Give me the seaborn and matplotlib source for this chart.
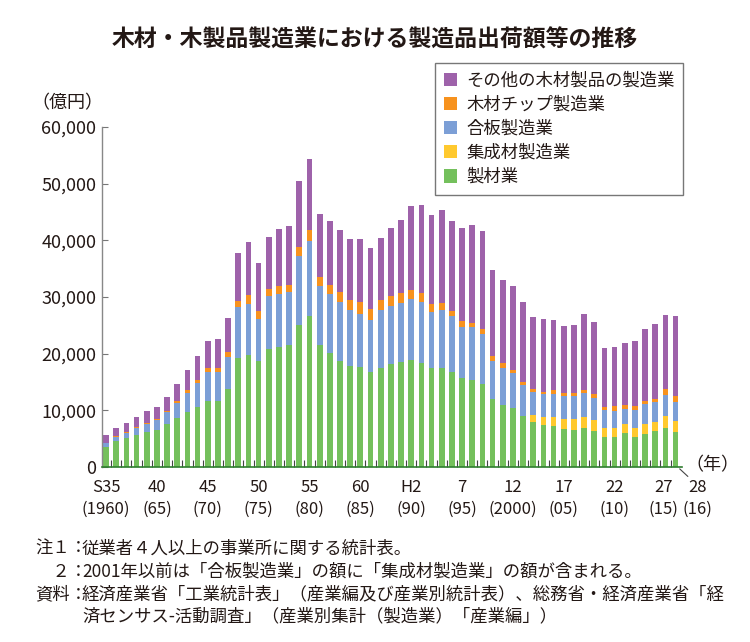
import numpy as np
import pandas as pd
import matplotlib
matplotlib.use("Agg")
import matplotlib.pyplot as plt
import matplotlib.transforms as mtransforms
from matplotlib.patches import Patch
from matplotlib.ticker import FuncFormatter, FixedLocator
import seaborn as sns

# data (億円), 1960-2016
years = list(range(1960, 2017))
seizai = [3540, 4600, 5130, 5600, 6130, 6480, 7540, 8720, 9780, 10610,
          11610, 11670, 13730, 19150, 19740, 18680, 20740, 21100, 21450, 25050,
          26640, 21510, 20040, 18740, 17800, 17560, 16680, 17500, 18090, 18450,
          18860, 18330, 17500, 17500, 16850, 15790, 15320, 14560, 12080, 10960,
          10430, 8960, 7900, 7370, 7190, 6660, 6540, 6840, 6310, 5360,
          5360, 6010, 5250, 5830, 6360, 6840, 6130]
shuseizai = [0] * 42 + [1240, 1410, 1590, 1770, 1890, 1940, 1940, 1530,
                        1530, 1530, 1650, 1710, 1650, 2240, 1940]
gohan = [700, 700, 940, 1360, 1470, 1770, 2180, 2530, 3300, 4130,
         5190, 5130, 5660, 9080, 9070, 7430, 9370, 9370, 9490, 12260,
         13200, 10490, 10430, 10430, 9840, 9430, 9310, 10260, 10370, 10490,
         10730, 10780, 9900, 10260, 9780, 8960, 9430, 8900, 6660, 6540,
         6130, 5480, 4130, 4130, 4130, 4010, 4130, 4300, 3950, 3180,
         3000, 2650, 3180, 3600, 3420, 3650, 3420]
chip = [80, 100, 100, 120, 120, 150, 200, 350, 530, 590,
        650, 650, 940, 1060, 1470, 1470, 1300, 1470, 1180, 1530,
        2000, 1470, 1710, 1770, 1830, 2120, 1950, 1710, 1710, 1710,
        1650, 1530, 1410, 1240, 940, 1060, 710, 830, 830, 770,
        530, 530, 530, 350, 650, 530, 530, 590, 710, 470,
        880, 710, 650, 590, 590, 1000, 1120]
sonota = [1330, 1490, 1550, 1710, 2120, 2210, 2510, 3120, 3480, 4240,
          4830, 5130, 5950, 8550, 9430, 8490, 9190, 10020, 10430, 11550,
          12550, 11260, 11260, 10840, 10790, 11140, 10790, 10960, 12080, 12960,
          14850, 15620, 15620, 16320, 15850, 16320, 17270, 17330, 15200, 14790,
          14850, 14140, 12610, 12850, 12380, 11900, 11960, 13380, 12670, 10370,
          10430, 10960, 11430, 12670, 13200, 13140, 13970]

series_names = ["製材業", "集成材製造業", "合板製造業", "木材チップ製造業", "その他の木材製品の製造業"]
series_colors = ["#74c05c", "#ffc92e", "#7c9fd6", "#f7921e", "#9e62aa"]

tick_idx = [0, 5, 10, 15, 20, 25, 30, 35, 40, 45, 50, 55, 56]
tick_labels = ["S35\n(1960)", "40\n(65)", "45\n(70)", "50\n(75)", "55\n(80)", "60\n(85)",
               "H2\n(90)", "7\n(95)", "12\n(2000)", "17\n(05)", "22\n(10)", "27\n(15)", "28\n(16)"]

df = pd.DataFrame({"year": years, "製材業": seizai, "集成材製造業": shuseizai,
                   "合板製造業": gohan, "木材チップ製造業": chip,
                   "その他の木材製品の製造業": sonota})
cum = df[series_names].cumsum(axis=1)

sns.set_theme(style="white")
plt.rcParams["font.family"] = ["Noto Sans CJK JP", "DejaVu Sans"]
txt = "#231815"

fig = plt.figure(figsize=(7.5, 6.42), dpi=100)
ax = fig.add_axes([0.136, 0.2726, 0.773, 0.5296])

# stacked bars: draw cumulative totals from the top layer down
for name, col in reversed(list(zip(series_names, series_colors))):
    sns.barplot(x=df["year"], y=cum[name], color=col, saturation=1, width=0.56,
                linewidth=0, errorbar=None, ax=ax)

ax.set_xlim(-0.4, 56.6)
ax.set_ylim(0, 60000)
ax.set_xlabel("")
ax.set_ylabel("")
ax.set_yticks(range(0, 60001, 10000))
ax.yaxis.set_major_formatter(FuncFormatter(lambda v, p: f"{int(v):,}"))
ax.tick_params(axis="y", direction="in", length=4, width=0.8, color="#777777",
               labelsize=13, labelcolor=txt, pad=4, left=True)

ax.set_xticks(tick_idx)
ax.set_xticklabels(tick_labels, fontsize=12, color=txt, linespacing=1.3)
ax.tick_params(axis="x", length=0, pad=9)
ax.xaxis.set_minor_locator(FixedLocator([i + 0.5 for i in range(56)]))
ax.tick_params(axis="x", which="minor", direction="in", length=5, width=0.8,
               color="#444444", bottom=True)
# nudge the last two labels apart, 28 sits right of its bar
labs = ax.get_xticklabels()
labs[-2].set_transform(labs[-2].get_transform() + mtransforms.ScaledTranslation(-0.02, 0, fig.dpi_scale_trans))
labs[-1].set_transform(labs[-1].get_transform() + mtransforms.ScaledTranslation(0.22, 0, fig.dpi_scale_trans))
ax.annotate("", xy=(56.2, 0), xytext=(57.4, -2000), annotation_clip=False,
            arrowprops=dict(arrowstyle="-", color="#444444", lw=0.8))

for s in ["top", "right"]:
    ax.spines[s].set_visible(False)
ax.spines["left"].set_color("#888888")
ax.spines["left"].set_linewidth(1.0)
ax.spines["bottom"].set_color("#2f7d2f")
ax.spines["bottom"].set_linewidth(1.2)

handles = [Patch(facecolor=c, edgecolor="none", label=n)
           for n, c in reversed(list(zip(series_names, series_colors)))]
leg = fig.legend(handles=handles, loc="upper right", bbox_to_anchor=(0.911, 0.902),
                 fontsize=12.5, frameon=True, fancybox=False, edgecolor="#555555",
                 handlelength=0.8, handleheight=0.8, handletextpad=0.5,
                 labelspacing=0.35, borderpad=0.5, borderaxespad=0)
leg.get_frame().set_linewidth(1.0)
for t in leg.get_texts():
    t.set_color(txt)

fig.text(0.5, 0.938, "木材・木製品製造業における製造品出荷額等の推移", ha="center", va="center",
         fontsize=16.5, fontweight="bold", color=txt)
fig.text(67 / 750, 1 - 103 / 642, "（億円）", ha="center", va="center", fontsize=13, color=txt)
fig.text(712 / 750, 1 - 465 / 642, "（年）", ha="center", va="center", fontsize=13, color=txt)

notes = [(35, 549, "注１："), (82, 549, "従業者４人以上の事業所に関する統計表。"),
         (35, 572, "　２："), (82, 572, "2001年以前は「合板製造業」の額に「集成材製造業」の額が含まれる。"),
         (35, 594, "資料："), (82, 594, "経済産業省「工業統計表」（産業編及び産業別統計表）、総務省・経済産業省「経"),
         (82, 616, "済センサス-活動調査」（産業別集計（製造業）「産業編」）")]
for x, y, s in notes:
    fig.text(x / 750, 1 - y / 642, s, ha="left", va="center", fontsize=12.5, color=txt)

fig.savefig("out.png", dpi=100)
